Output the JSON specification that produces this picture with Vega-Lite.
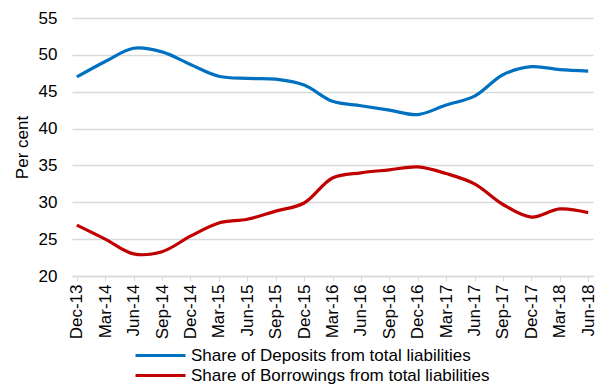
{
  "$schema": "https://vega.github.io/schema/vega-lite/v6.json",
  "autosize": {"type": "none"},
  "padding": {"left": 72, "top": 18, "right": 8, "bottom": 108},
  "width": 521,
  "height": 258,
  "background": "white",
  "data": {
    "values": [
      {"q": "Dec-13", "s": "Share of Deposits from total liabilities", "v": 47.0},
      {"q": "Mar-14", "s": "Share of Deposits from total liabilities", "v": 49.1},
      {"q": "Jun-14", "s": "Share of Deposits from total liabilities", "v": 50.9},
      {"q": "Sep-14", "s": "Share of Deposits from total liabilities", "v": 50.4},
      {"q": "Dec-14", "s": "Share of Deposits from total liabilities", "v": 48.7},
      {"q": "Mar-15", "s": "Share of Deposits from total liabilities", "v": 47.1},
      {"q": "Jun-15", "s": "Share of Deposits from total liabilities", "v": 46.8},
      {"q": "Sep-15", "s": "Share of Deposits from total liabilities", "v": 46.7},
      {"q": "Dec-15", "s": "Share of Deposits from total liabilities", "v": 45.9},
      {"q": "Mar-16", "s": "Share of Deposits from total liabilities", "v": 43.7},
      {"q": "Jun-16", "s": "Share of Deposits from total liabilities", "v": 43.1},
      {"q": "Sep-16", "s": "Share of Deposits from total liabilities", "v": 42.5},
      {"q": "Dec-16", "s": "Share of Deposits from total liabilities", "v": 41.9},
      {"q": "Mar-17", "s": "Share of Deposits from total liabilities", "v": 43.2},
      {"q": "Jun-17", "s": "Share of Deposits from total liabilities", "v": 44.4},
      {"q": "Sep-17", "s": "Share of Deposits from total liabilities", "v": 47.3},
      {"q": "Dec-17", "s": "Share of Deposits from total liabilities", "v": 48.4},
      {"q": "Mar-18", "s": "Share of Deposits from total liabilities", "v": 48.0},
      {"q": "Jun-18", "s": "Share of Deposits from total liabilities", "v": 47.8},
      {"q": "Dec-13", "s": "Share of Borrowings from total liabilities", "v": 26.9},
      {"q": "Mar-14", "s": "Share of Borrowings from total liabilities", "v": 25.0},
      {"q": "Jun-14", "s": "Share of Borrowings from total liabilities", "v": 23.0},
      {"q": "Sep-14", "s": "Share of Borrowings from total liabilities", "v": 23.3},
      {"q": "Dec-14", "s": "Share of Borrowings from total liabilities", "v": 25.4},
      {"q": "Mar-15", "s": "Share of Borrowings from total liabilities", "v": 27.2},
      {"q": "Jun-15", "s": "Share of Borrowings from total liabilities", "v": 27.7},
      {"q": "Sep-15", "s": "Share of Borrowings from total liabilities", "v": 28.8},
      {"q": "Dec-15", "s": "Share of Borrowings from total liabilities", "v": 29.9},
      {"q": "Mar-16", "s": "Share of Borrowings from total liabilities", "v": 33.3},
      {"q": "Jun-16", "s": "Share of Borrowings from total liabilities", "v": 34.0},
      {"q": "Sep-16", "s": "Share of Borrowings from total liabilities", "v": 34.4},
      {"q": "Dec-16", "s": "Share of Borrowings from total liabilities", "v": 34.8},
      {"q": "Mar-17", "s": "Share of Borrowings from total liabilities", "v": 33.9},
      {"q": "Jun-17", "s": "Share of Borrowings from total liabilities", "v": 32.5},
      {"q": "Sep-17", "s": "Share of Borrowings from total liabilities", "v": 29.7},
      {"q": "Dec-17", "s": "Share of Borrowings from total liabilities", "v": 28.0},
      {"q": "Mar-18", "s": "Share of Borrowings from total liabilities", "v": 29.1},
      {"q": "Jun-18", "s": "Share of Borrowings from total liabilities", "v": 28.6}
    ]
  },
  "mark": {"type": "line", "interpolate": "catmull-rom", "strokeWidth": 3.2},
  "encoding": {
    "x": {
      "field": "q",
      "type": "ordinal",
      "sort": null,
      "scale": {"type": "point", "padding": 0.17},
      "axis": {
        "title": null,
        "labelAngle": -90,
        "labelFont": "Liberation Sans",
        "labelFontSize": 17,
        "labelColor": "#000000",
        "labelPadding": 3,
        "tickSize": 5,
        "tickColor": "#d9d9d9",
        "domainColor": "#d9d9d9",
        "domainWidth": 1.5,
        "grid": false
      }
    },
    "y": {
      "field": "v",
      "type": "quantitative",
      "scale": {"domain": [20, 55], "nice": false, "zero": false},
      "axis": {
        "title": "Per cent",
        "titleFont": "Liberation Sans",
        "titleFontSize": 17,
        "titleFontWeight": "normal",
        "titleColor": "#000000",
        "titlePadding": 7,
        "values": [20, 25, 30, 35, 40, 45, 50, 55],
        "labelFont": "Liberation Sans",
        "labelFontSize": 17,
        "labelColor": "#000000",
        "labelPadding": 15,
        "ticks": false,
        "domain": false,
        "gridColor": "#d9d9d9",
        "gridWidth": 1.5
      }
    },
    "color": {
      "field": "s",
      "type": "nominal",
      "sort": null,
      "scale": {
        "domain": ["Share of Deposits from total liabilities", "Share of Borrowings from total liabilities"],
        "range": ["#0070c0", "#c00000"]
      },
      "legend": {
        "title": null,
        "orient": "none",
        "legendX": 80,
        "legendY": 329,
        "padding": 0,
        "direction": "vertical",
        "symbolType": "M-5,0H5",
        "symbolSize": 100,
        "symbolStrokeWidth": 3.2,
        "labelOffset": 22,
        "rowPadding": 2,
        "labelFont": "Liberation Sans",
        "labelFontSize": 17,
        "labelColor": "#000000",
        "labelLimit": 0
      }
    }
  },
  "config": {"view": {"stroke": null}}
}
